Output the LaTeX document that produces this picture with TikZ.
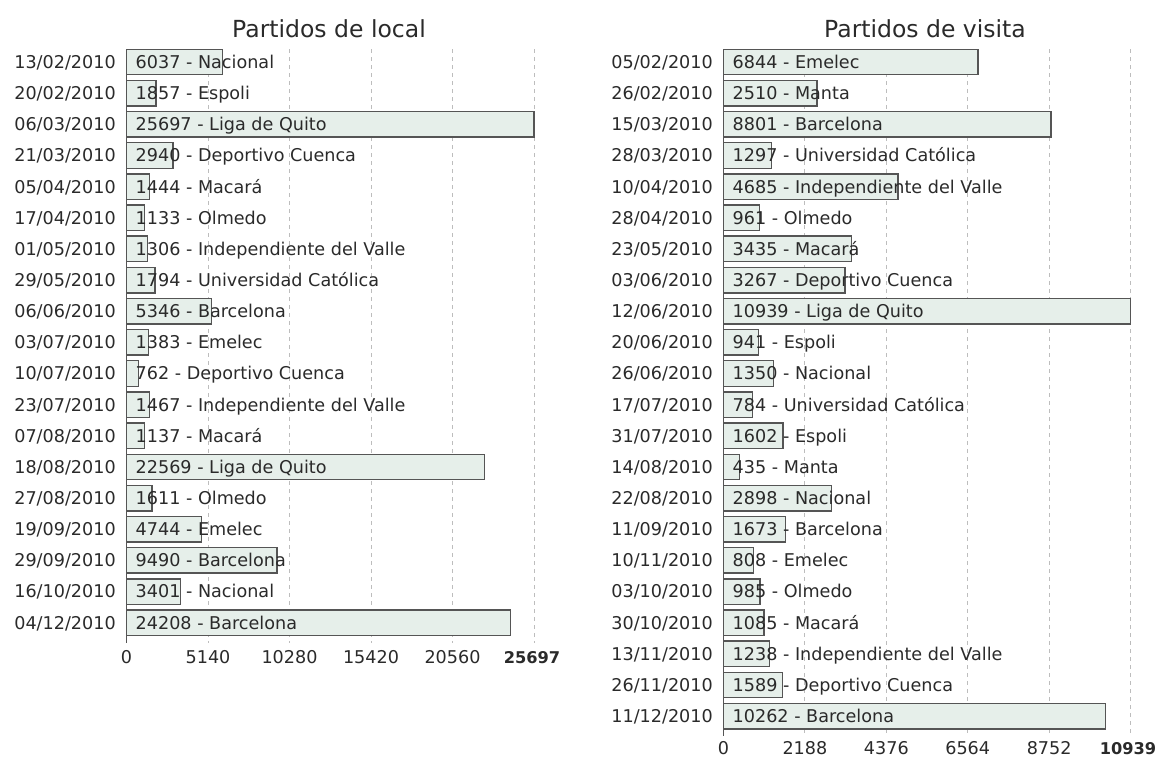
\documentclass[tikz,border=0pt]{standalone}
\usepackage{fontspec}
\setmainfont{DejaVu Sans}
\definecolor{barfill}{HTML}{E6EFEA}
\definecolor{barline}{HTML}{555555}
\definecolor{gridgray}{HTML}{BDBDBD}
\definecolor{txt}{HTML}{2A2A2A}
\newcommand\lblfont{\fontsize{17.6}{20}\selectfont}
\newcommand\maxfont{\fontsize{16.2}{20}\selectfont\bfseries}
\newcommand\ttlfont{\fontsize{23.5}{26}\selectfont}
\begin{document}
\begin{tikzpicture}[x=1pt,y=-1pt,
  bar/.style={draw=barline, fill=barfill, line width=1.4pt},
  gridln/.style={draw=gridgray, line width=0.9pt, dash pattern=on 4pt off 4pt},
  axisln/.style={draw=barline, line width=1.4pt},
  datelbl/.style={font=\lblfont, text=txt, inner sep=0pt, anchor=base east},
  barlbl/.style={font=\lblfont, text=txt, inner sep=0pt, anchor=base west},
  ticklbl/.style={font=\lblfont, text=txt, inner sep=0pt, anchor=base},
  ttl/.style={font=\ttlfont, text=txt, inner sep=0pt, anchor=base}]
\useasboundingbox (0,0) rectangle (1158,758);

% Partidos de local
\node[ttl] (locTitle) at (329,37) {Partidos de local};
\foreach \v [count=\k] in {5140,10280,15420,20560,25697}{
  \edef\tx{\fpeval{126.5+\v*407.5/25697}}
  \coordinate (locGridTop\k) at (\tx,49);
  \coordinate (locGridBot\k) at (\tx,643);
  \draw[gridln] (locGridTop\k) -- (locGridBot\k);
}
\foreach \d/\v/\t [count=\i] in {{13/02/2010}/6037/Nacional, {20/02/2010}/1857/Espoli,
  {06/03/2010}/25697/Liga de Quito, {21/03/2010}/2940/Deportivo Cuenca,
  {05/04/2010}/1444/Macará, {17/04/2010}/1133/Olmedo,
  {01/05/2010}/1306/Independiente del Valle, {29/05/2010}/1794/Universidad Católica,
  {06/06/2010}/5346/Barcelona, {03/07/2010}/1383/Emelec,
  {10/07/2010}/762/Deportivo Cuenca, {23/07/2010}/1467/Independiente del Valle,
  {07/08/2010}/1137/Macará, {18/08/2010}/22569/Liga de Quito,
  {27/08/2010}/1611/Olmedo, {19/09/2010}/4744/Emelec,
  {29/09/2010}/9490/Barcelona, {16/10/2010}/3401/Nacional,
  {04/12/2010}/24208/Barcelona}{
  \pgfmathsetmacro\yc{62+(\i-1)*31.15}
  \edef\w{\fpeval{\v*407.5/25697}}
  \filldraw[bar] (126.5,\yc-12.75) rectangle ++(\w,25.5);
  \node[datelbl] (locDate\i) at (116,\yc+6.4) {\d};
  \node[barlbl] (locLbl\i) at (135.5,\yc+6.4) {\v{} - \t};
}
% eje
\coordinate (locAxisTop) at (126.5,49);
\coordinate (locAxisBot) at (126.5,643);
\draw[axisln] (locAxisTop) -- (locAxisBot);
\foreach \v [count=\k] in {0,5140,10280,15420,20560}{
  \edef\tx{\fpeval{126.5+\v*407.5/25697}}
  \node[ticklbl] (locTick\k) at (\tx,663.5) {\v};
}
\node[ticklbl, font=\maxfont] (locTickMax) at (532,663.5) {25697};

% Partidos de visita
\node[ttl] (visTitle) at (925,37) {Partidos de visita};
\foreach \v [count=\k] in {2188,4376,6564,8752,10939}{
  \edef\tx{\fpeval{723.5+\v*407/10939}}
  \coordinate (visGridTop\k) at (\tx,49);
  \coordinate (visGridBot\k) at (\tx,736);
  \draw[gridln] (visGridTop\k) -- (visGridBot\k);
}
\foreach \d/\v/\t [count=\i] in {{05/02/2010}/6844/Emelec, {26/02/2010}/2510/Manta,
  {15/03/2010}/8801/Barcelona, {28/03/2010}/1297/Universidad Católica,
  {10/04/2010}/4685/Independiente del Valle, {28/04/2010}/961/Olmedo,
  {23/05/2010}/3435/Macará, {03/06/2010}/3267/Deportivo Cuenca,
  {12/06/2010}/10939/Liga de Quito, {20/06/2010}/941/Espoli,
  {26/06/2010}/1350/Nacional, {17/07/2010}/784/Universidad Católica,
  {31/07/2010}/1602/Espoli, {14/08/2010}/435/Manta,
  {22/08/2010}/2898/Nacional, {11/09/2010}/1673/Barcelona,
  {10/11/2010}/808/Emelec, {03/10/2010}/985/Olmedo,
  {30/10/2010}/1085/Macará, {13/11/2010}/1238/Independiente del Valle,
  {26/11/2010}/1589/Deportivo Cuenca, {11/12/2010}/10262/Barcelona}{
  \pgfmathsetmacro\yc{62+(\i-1)*31.15}
  \edef\w{\fpeval{\v*407/10939}}
  \filldraw[bar] (723.5,\yc-12.75) rectangle ++(\w,25.5);
  \node[datelbl] (visDate\i) at (713,\yc+6.4) {\d};
  \node[barlbl] (visLbl\i) at (732.5,\yc+6.4) {\v{} - \t};
}
% eje
\coordinate (visAxisTop) at (723.5,49);
\coordinate (visAxisBot) at (723.5,736);
\draw[axisln] (visAxisTop) -- (visAxisBot);
\foreach \v [count=\k] in {0,2188,4376,6564,8752}{
  \edef\tx{\fpeval{723.5+\v*407/10939}}
  \node[ticklbl] (visTick\k) at (\tx,754.5) {\v};
}
\node[ticklbl, font=\maxfont] (visTickMax) at (1128,754.5) {10939};
\end{tikzpicture}
\end{document}
